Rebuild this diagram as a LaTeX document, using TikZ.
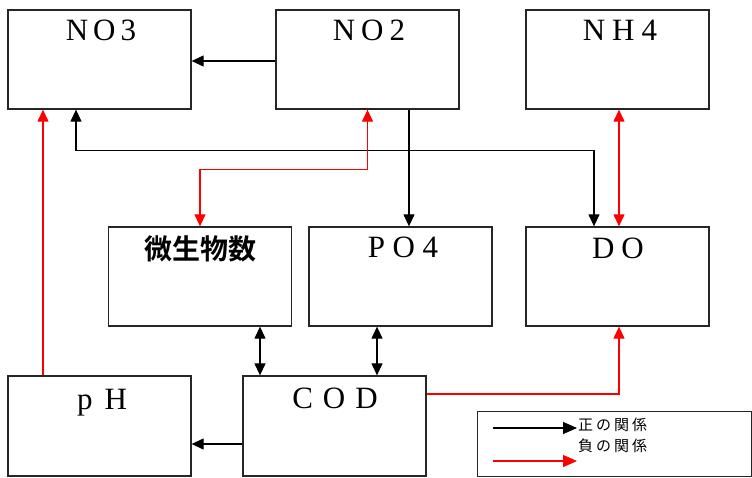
\documentclass[tikz,border=0pt]{standalone}
\usepackage{fontspec}
\setmainfont{Liberation Serif}
\newfontfamily\jpfont{Noto Sans CJK JP}
\newfontfamily\jpbold{Noto Sans CJK JP Bold}
\usetikzlibrary{arrows.meta}
\newcommand\lgsp[1]{\hspace{#1pt}}
\begin{document}
\begin{tikzpicture}[x=1pt,y=-1pt,
  box/.style={draw=black!85, line width=1.3pt, minimum width=183pt, minimum height=99pt, inner sep=0pt},
  lbl/.style={anchor=base, inner sep=0pt, font=\fontsize{31}{34}\selectfont},
  jlbl/.style={anchor=base, inner sep=0pt, font=\jpbold\fontsize{28}{32}\selectfont},
  leg/.style={anchor=west, inner sep=0pt, font=\jpfont\fontsize{15}{17}\selectfont},
  posline/.style={draw=black, line width=1.2pt},
  negline/.style={draw=red, line width=1.2pt}]
\useasboundingbox (0,0) rectangle (752,477);
% boxes
\node[box] (no3) at (99.5,59.5) {};
\node[box] (no2) at (367.5,59.5) {};
\node[box] (nh4) at (617.5,59.5) {};
\node[box] (mic) at (200,276.5) {};
\node[box] (po4) at (400.5,276.5) {};
\node[box] (do) at (617.5,276.5) {};
\node[box, minimum height=100pt] (ph) at (99.5,426) {};
\node[box, minimum height=100pt] (cod) at (334.5,426) {};
\node[draw=black!85, line width=1.3pt, minimum width=274pt, minimum height=65pt, inner sep=0pt, anchor=north west] (legbox) at (477,411) {};
% labels
\node[lbl] (tno3) at (101,40) {N\lgsp{5}O\lgsp{5}3};
\node[lbl] (tno2) at (369,40) {N\lgsp{6}O\lgsp{6}2};
\node[lbl] (tnh4) at (620,40) {N\lgsp{7}H\lgsp{7}4};
\node[jlbl] (tmic) at (200,259) {微生物数};
\node[lbl] (tpo4) at (403,257) {P\lgsp{7.5}O\lgsp{7.5}4};
\node[lbl] (tdo) at (618,258) {D\lgsp{7}O};
\node[lbl] (tph) at (102,409) {p\lgsp{12}H};
\node[lbl] (tcod) at (335,408) {C\lgsp{10}O\lgsp{10}D};
% connectors
\draw[posline, -{Triangle[length=12pt,width=11pt]}] (no2.west |- 0,61) -- (no3.east |- 0,61);
\coordinate (a1) at ([xshift=41.5pt]no2.south);
\draw[posline, -{Triangle[length=12pt,width=11pt]}] (a1) -- (a1 |- po4.north);
\coordinate (b1) at ([xshift=-23.5pt]no3.south);
\coordinate (b2) at ([xshift=-23.5pt]do.north);
\draw[posline, {Triangle[length=12pt,width=11pt]}-{Triangle[length=12pt,width=11pt]}] (b1) -- ++(0,41) -| (b2);
\draw[negline, {Triangle[length=12pt,width=11pt]}-{Triangle[length=12pt,width=11pt]}] (no2.south) -- ++(0,60) -| (mic.north);
\coordinate (c1) at ([xshift=1.5pt]nh4.south);
\draw[negline, {Triangle[length=12pt,width=11pt]}-{Triangle[length=12pt,width=11pt]}] (c1) -- (c1 |- do.north);
\coordinate (d1) at ([xshift=-56.5pt]ph.north);
\draw[negline, -{Triangle[length=12pt,width=11pt]}] (d1) -- (d1 |- no3.south);
\coordinate (e1) at ([xshift=60pt]mic.south);
\draw[posline, {Triangle[length=12pt,width=11pt]}-{Triangle[length=12pt,width=11pt]}] (e1) -- (e1 |- cod.north);
\coordinate (f1) at ([xshift=-23.5pt]po4.south);
\draw[posline, {Triangle[length=12pt,width=11pt]}-{Triangle[length=12pt,width=11pt]}] (f1) -- (f1 |- cod.north);
\coordinate (g1) at ([yshift=-18pt]cod.west);
\draw[posline, -{Triangle[length=12pt,width=11pt]}] (g1) -- (g1 -| ph.east);
\coordinate (h1) at ([yshift=32pt]cod.east);
\draw[negline, -{Triangle[length=12pt,width=11pt]}] (h1) -| ([xshift=1.5pt]do.south);
% legend
\coordinate (l1) at (493,428);
\coordinate (l2) at (577,428);
\coordinate (l3) at (493,461);
\coordinate (l4) at (577,461);
\draw[posline, -{Triangle[length=14pt,width=12pt]}] (l1) -- (l2);
\draw[negline, -{Triangle[length=14pt,width=12pt]}] (l3) -- (l4);
\node[leg] (tpos) at (578,425) {正\lgsp{3}の\lgsp{3}関\lgsp{3}係};
\node[leg] (tneg) at (578,446) {負\lgsp{3}の\lgsp{3}関\lgsp{3}係};
\end{tikzpicture}
\end{document}
